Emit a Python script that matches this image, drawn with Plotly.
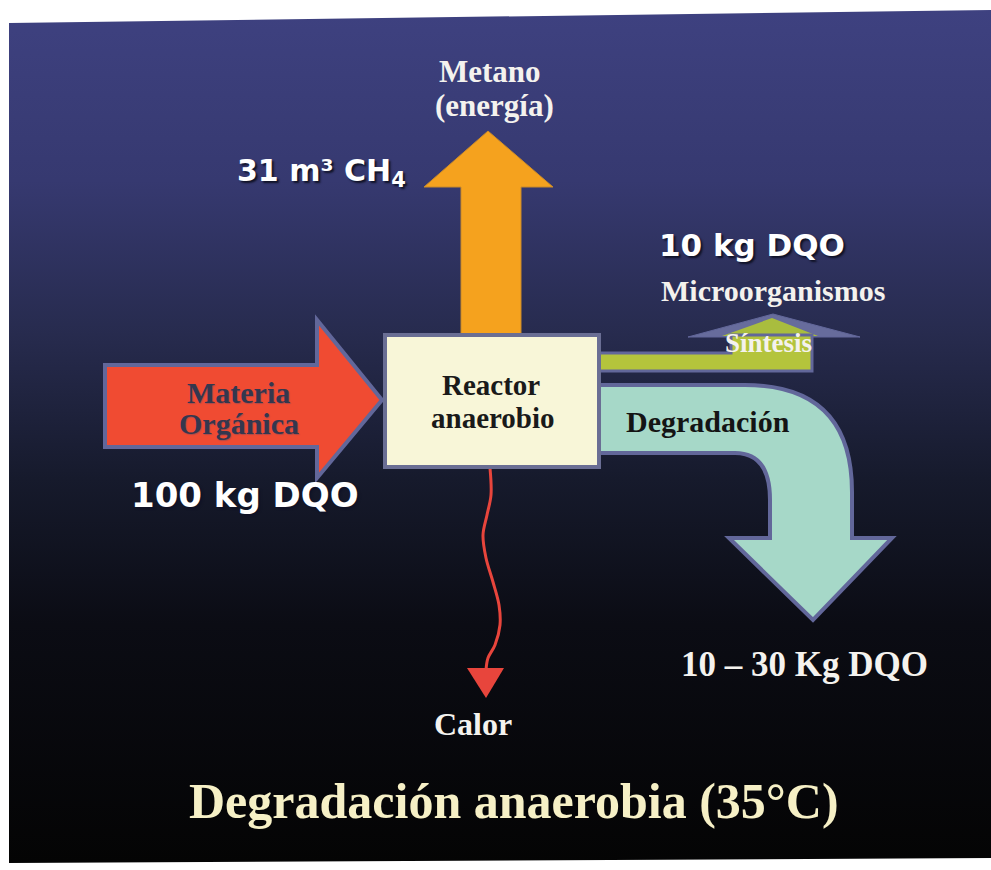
import plotly.graph_objects as go

# ---- content ----
flow_names = ["Materia Orgánica", "Metano (energía)", "Microorganismos", "Degradación", "Calor"]
flow_amounts = ["100 kg DQO", "31 m³ CH<sub>4</sub>", "10 kg DQO", "10 – 30 Kg DQO", ""]
reactor_label = ["Reactor", "anaerobio"]
synthesis_label = "Síntesis"
title_text = "Degradación anaerobia (35°C)"

# ---- drawing helpers ----
W, H = 991, 870
SERIF = "Liberation Serif"
SANS = "DejaVu Sans"
EDGE = "#62679a"

fig = go.Figure()

# slide background with vertical gradient
slide_x = [9, 991, 991, 9, 9]
slide_y = [23, 10, 858, 863, 23]
fig.add_trace(go.Scatter(
    x=slide_x, y=slide_y, mode="lines", fill="toself",
    line=dict(width=0, color="rgba(0,0,0,0)"),
    fillgradient=dict(type="vertical", start=10, stop=863,
                      colorscale=[[0, "#3e4180"], [0.2, "#363970"], [0.38, "#272b4e"],
                                  [0.55, "#161a2c"], [0.72, "#0b0c14"], [1, "#040404"]]),
    hoverinfo="skip", showlegend=False))

shapes = []
# orange methane arrow
shapes.append(dict(type="path",
    path="M461,342 L461,187 L424,187 L488,131 L553,187 L521,187 L521,342 Z",
    fillcolor="#f5a21e", line=dict(color="#c98a2a", width=1), layer="above"))
# red input arrow
shapes.append(dict(type="path",
    path="M105,365 L317,365 L317,320 L382,400 L317,478 L317,447 L105,447 Z",
    fillcolor="#f04b32", line=dict(color=EDGE, width=4), layer="above"))
# teal degradation arrow
shapes.append(dict(type="path",
    path="M597,385 L745,385 Q852,385 852,492 L852,538 L892,538 L813,620 L729,538 L770,538 "
         "L770,500 Q770,453 735,453 L597,453 Z",
    fillcolor="#a6d8c8", line=dict(color=EDGE, width=4), layer="above"))
# synthesis arrow: grey head, then green body
shapes.append(dict(type="path",
    path="M688,337 L773,314 L860,337 Z",
    fillcolor="#676c9c", line=dict(color=EDGE, width=1), layer="above"))
shapes.append(dict(type="path",
    path="M722,336 L772,318 L818,336 Z",
    fillcolor="#a9bd3e", line=dict(width=0), layer="above"))
shapes.append(dict(type="path",
    path="M597,353 L731,353 L731,335 L812,335 L812,371 L597,371 Z",
    fillcolor="#b4c43c", line=dict(color=EDGE, width=3), layer="above"))
# reactor box
shapes.append(dict(type="rect", x0=385, y0=335, x1=599, y1=467,
                   fillcolor="#f8f6d8", line=dict(color="#6a6e94", width=4), layer="above"))
# heat arrow head
shapes.append(dict(type="path", path="M467,668 L504,668 L486,698 Z",
                   fillcolor="#e8453c", line=dict(width=0), layer="above"))
fig.update_layout(shapes=shapes)

# wavy heat line
heat_x = [490, 491, 487, 483, 486, 493, 499, 500, 495, 488, 486]
heat_y = [468, 495, 515, 535, 558, 582, 605, 625, 645, 658, 670]
fig.add_trace(go.Scatter(x=heat_x, y=heat_y, mode="lines",
                         line=dict(color="#e8453c", width=3, shape="spline"),
                         hoverinfo="skip", showlegend=False))

ann = []
def txt(x, y, s, size, color, family, shadow="none"):
    ann.append(dict(x=x, y=y, text=f"<b>{s}</b>", showarrow=False,
                    font=dict(size=size, color=color, family=family, shadow=shadow),
                    xanchor="center", yanchor="middle"))

SH = "2px 2px 2px #101226"
# methane
txt(490, 71, "Metano", 31, "#f4f2ee", SERIF)
txt(494, 105, "(energía)", 31, "#f4f2ee", SERIF)
txt(321, 172, flow_amounts[1], 30, "#ffffff", SANS, SH)
# microorganisms
txt(752, 245, flow_amounts[2], 31, "#ffffff", SANS, SH)
txt(773, 290, flow_names[2], 30, "#f4f2ee", SERIF)
txt(768, 343, synthesis_label, 27, "#f4f2ee", SERIF)
# input
txt(238, 392, "Materia", 30, "#34374e", SERIF, "1px 1px 1px #b04a48")
txt(239, 423, "Orgánica", 30, "#34374e", SERIF, "1px 1px 1px #b04a48")
txt(245, 495, flow_amounts[0], 34, "#ffffff", SANS, SH)
# reactor
txt(491, 385, reactor_label[0], 29, "#1a1a1a", SERIF)
txt(493, 418, reactor_label[1], 29, "#1a1a1a", SERIF)
# degradation
txt(708, 421, flow_names[3], 30, "#141414", SERIF)
txt(804, 664, flow_amounts[3], 35, "#f4f2ee", SERIF)
# heat
txt(473, 724, flow_names[4], 32, "#f4f2ee", SERIF)
# title
txt(514, 801, title_text, 50, "#f6f0c6", SERIF)

fig.update_layout(
    annotations=ann,
    width=W, height=H,
    margin=dict(l=0, r=0, t=0, b=0),
    paper_bgcolor="white", plot_bgcolor="white",
    xaxis=dict(range=[0, W], visible=False, fixedrange=True),
    yaxis=dict(range=[H, 0], visible=False, fixedrange=True),
    showlegend=False,
)
fig.write_html("out.html", config={"displayModeBar": False},
               post_script="document.body.style.margin='0px';")
